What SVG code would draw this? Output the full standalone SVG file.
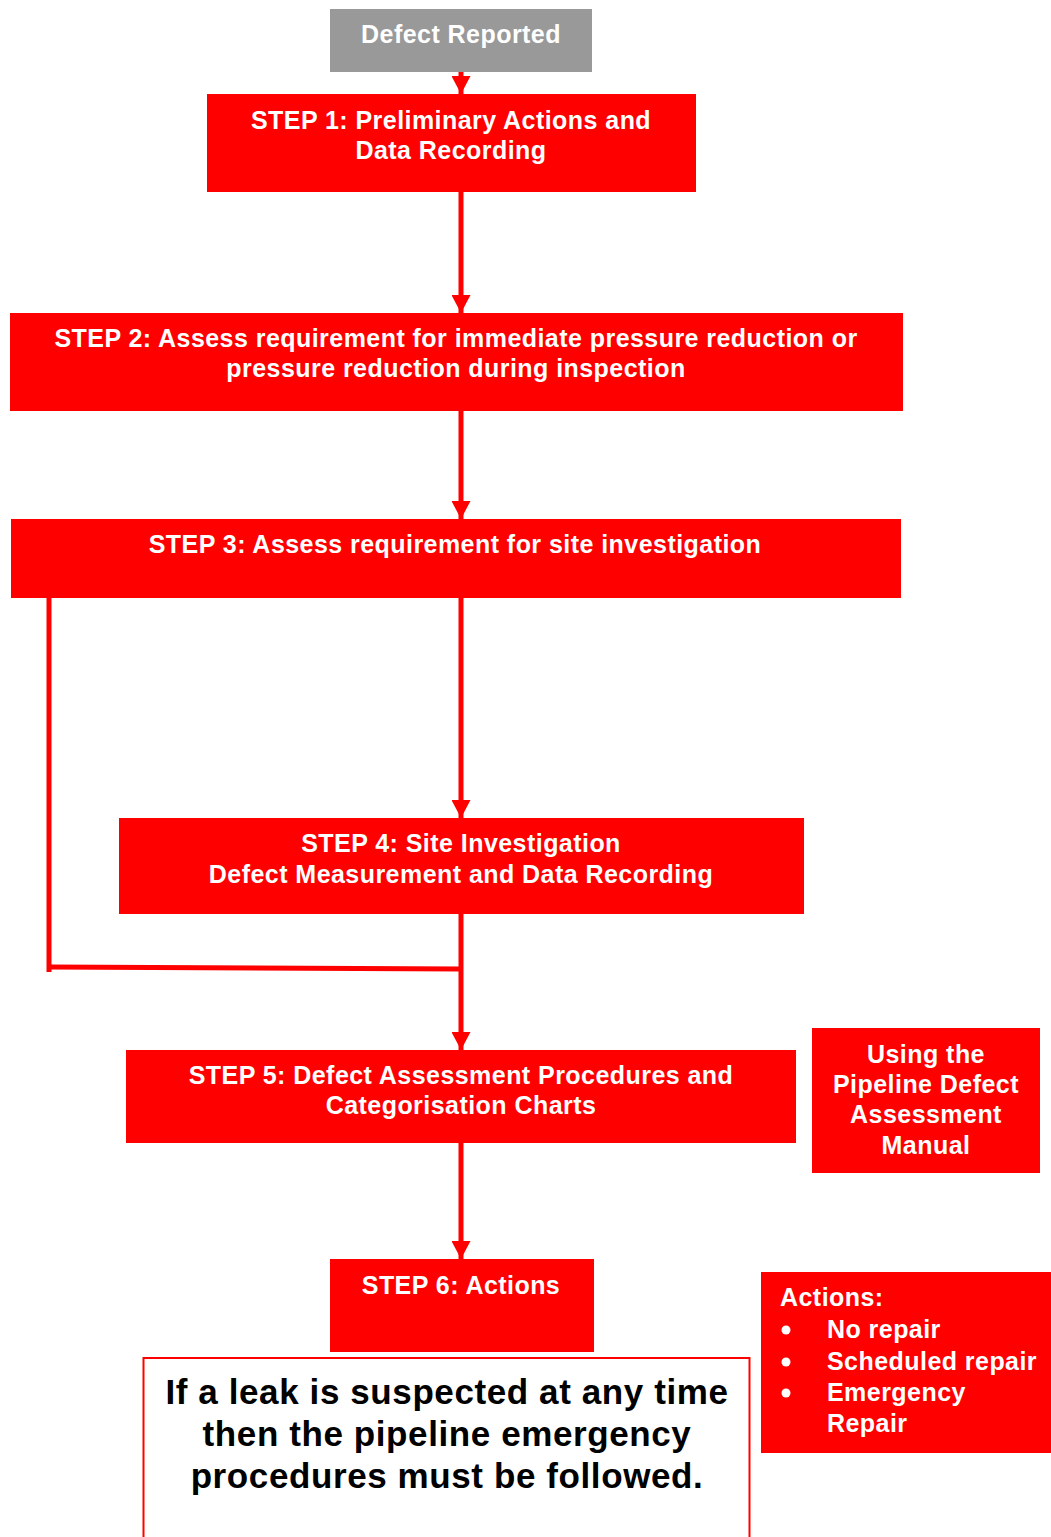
<svg xmlns="http://www.w3.org/2000/svg" width="1051" height="1537" viewBox="0 0 1051 1537">
<defs>
<style>
.box{fill:#ff0000}
.t{font-family:"Liberation Sans",Arial,sans-serif;font-weight:bold;font-size:25px;letter-spacing:0.45px;fill:#ffffff;text-anchor:middle}
.l{text-anchor:start}
.c{stroke:#ff0000;stroke-width:5;fill:none}
.leak{font-family:"Liberation Sans",Arial,sans-serif;font-weight:bold;font-size:35px;letter-spacing:0.6px;fill:#000000;text-anchor:middle}
</style>
<marker id="ah" markerWidth="3.6" markerHeight="3.8" refX="3.6" refY="1.9" orient="auto" markerUnits="strokeWidth">
<path d="M0,0 L3.6,1.9 L0,3.8 Z" fill="#ff0000"/>
</marker>
</defs>
<rect width="1051" height="1537" fill="#ffffff"/>
<g id="connectors">
<line class="c" x1="461" y1="72" x2="461" y2="94" marker-end="url(#ah)"/>
<line class="c" x1="461" y1="192" x2="461" y2="313" marker-end="url(#ah)"/>
<line class="c" x1="461" y1="411" x2="461" y2="519" marker-end="url(#ah)"/>
<line class="c" x1="461" y1="598" x2="461" y2="818" marker-end="url(#ah)"/>
<polyline class="c" points="49,598 49,972"/>
<line class="c" x1="49" y1="967" x2="461" y2="969"/>
<line class="c" x1="461" y1="914" x2="461" y2="1050" marker-end="url(#ah)"/>
<line class="c" x1="461" y1="1143" x2="461" y2="1259" marker-end="url(#ah)"/>
</g>
<g id="defect-reported">
<rect x="330" y="9" width="262" height="63" fill="#999999"/>
<text class="t" x="461" y="43">Defect Reported</text>
</g>
<g id="step1">
<rect class="box" x="207" y="94" width="489" height="98"/>
<text class="t" x="451" y="129">STEP 1: Preliminary Actions and</text>
<text class="t" x="451" y="159">Data Recording</text>
</g>
<g id="step2">
<rect class="box" x="10" y="313" width="893" height="98"/>
<text class="t" x="456" y="347">STEP 2: Assess requirement for immediate pressure reduction or</text>
<text class="t" x="456" y="377">pressure reduction during inspection</text>
</g>
<g id="step3">
<rect class="box" x="11" y="519" width="890" height="79"/>
<text class="t" x="455" y="553">STEP 3: Assess requirement for site investigation</text>
</g>
<g id="step4">
<rect class="box" x="119" y="818" width="685" height="96"/>
<text class="t" x="461" y="852">STEP 4: Site Investigation</text>
<text class="t" x="461" y="883">Defect Measurement and Data Recording</text>
</g>
<g id="step5">
<rect class="box" x="126" y="1050" width="670" height="93"/>
<text class="t" x="461" y="1084">STEP 5: Defect Assessment Procedures and</text>
<text class="t" x="461" y="1114">Categorisation Charts</text>
</g>
<g id="manual">
<rect class="box" x="812" y="1028" width="228" height="145"/>
<text class="t" x="926" y="1063">Using the</text>
<text class="t" x="926" y="1093">Pipeline Defect</text>
<text class="t" x="926" y="1123">Assessment</text>
<text class="t" x="926" y="1154">Manual</text>
</g>
<g id="step6">
<rect class="box" x="330" y="1259" width="264" height="93"/>
<text class="t" x="461" y="1294">STEP 6: Actions</text>
</g>
<g id="actions">
<rect class="box" x="761" y="1272" width="290" height="181"/>
<text class="t l" x="780" y="1306">Actions:</text>
<circle cx="786" cy="1330" r="4.5" fill="#ffffff"/>
<circle cx="786" cy="1362" r="4.5" fill="#ffffff"/>
<circle cx="786" cy="1393" r="4.5" fill="#ffffff"/>
<text class="t l" x="827" y="1338">No repair</text>
<text class="t l" x="827" y="1370">Scheduled repair</text>
<text class="t l" x="827" y="1401">Emergency</text>
<text class="t l" x="827" y="1432">Repair</text>
</g>
<g id="leak-note">
<rect x="143.5" y="1358" width="606" height="190" fill="#ffffff" stroke="#ff0000" stroke-width="2"/>
<text class="leak" x="447" y="1404">If a leak is suspected at any time</text>
<text class="leak" x="447" y="1446">then the pipeline emergency</text>
<text class="leak" x="447" y="1488">procedures must be followed.</text>
</g>
</svg>
